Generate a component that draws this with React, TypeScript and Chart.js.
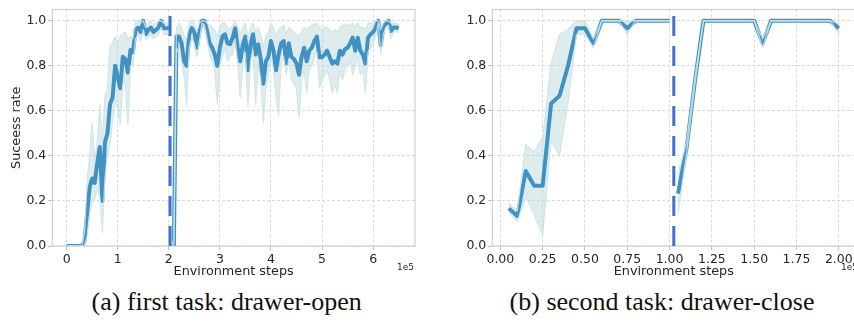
import React, { useEffect, useRef } from "react";
import { Chart, registerables } from "chart.js";

Chart.register(...registerables);

// ---------- Data (x in units of 1e5 environment steps) ----------
// (a) first task: drawer-open — phase 1 (first task)
const leftStepsA = [
  0, 0.05, 0.1, 0.15, 0.2, 0.25, 0.3, 0.35, 0.4, 0.45, 0.5, 0.55, 0.6, 0.65, 0.7, 0.75, 0.8, 0.85, 0.9, 0.95,
  1.0, 1.05, 1.1, 1.15, 1.2, 1.25, 1.3, 1.35, 1.4, 1.45, 1.5, 1.55, 1.6, 1.65, 1.7, 1.75, 1.8, 1.85, 1.9, 1.95, 2.0,
];
const leftMeanA = [
  0, 0, 0, 0, 0, 0, 0, 0.02, 0.14, 0.26, 0.3, 0.28, 0.37, 0.44, 0.2, 0.46, 0.5, 0.63, 0.66, 0.8,
  0.75, 0.7, 0.84, 0.83, 0.77, 0.87, 0.86, 0.96, 0.97, 0.95, 1.0, 0.94, 0.96, 0.97, 0.95, 0.96, 0.97, 1.0, 0.967, 0.967, 0.967,
];
const leftUpperA = [
  0, 0, 0, 0, 0, 0, 0, 0.06, 0.28, 0.4, 0.55, 0.38, 0.46, 0.63, 0.46, 0.66, 0.7, 0.89, 0.9, 0.93,
  0.9, 0.93, 0.94, 0.95, 0.92, 0.93, 0.92, 1.0, 1.0, 0.99, 1.0, 0.97, 0.99, 1.0, 0.98, 0.99, 1.0, 1.0, 0.99, 0.99, 0.99,
];
const leftLowerA = [
  0, 0, 0, 0, 0, 0, 0, 0, 0.04, 0.14, 0.2, 0.21, 0.25, 0.22, 0.06, 0.3, 0.4, 0.45, 0.55, 0.65,
  0.6, 0.54, 0.72, 0.72, 0.54, 0.8, 0.8, 0.92, 0.94, 0.91, 0.96, 0.92, 0.93, 0.94, 0.92, 0.93, 0.94, 0.97, 0.94, 0.94, 0.94,
];

// (a) phase 2 (after task switch)
const leftStepsB = [
  2.05, 2.1, 2.15, 2.2, 2.25, 2.3, 2.35, 2.4, 2.45, 2.5, 2.55, 2.6, 2.65, 2.7, 2.75, 2.8, 2.85, 2.9, 2.95, 3.0,
  3.05, 3.1, 3.15, 3.2, 3.25, 3.3, 3.35, 3.4, 3.45, 3.5, 3.55, 3.6, 3.65, 3.7, 3.75, 3.8, 3.85, 3.9, 3.95, 4.0,
  4.05, 4.1, 4.15, 4.2, 4.25, 4.3, 4.35, 4.4, 4.45, 4.5, 4.55, 4.6, 4.65, 4.7, 4.75, 4.8, 4.85, 4.9, 4.95, 5.0,
  5.05, 5.1, 5.15, 5.2, 5.25, 5.3, 5.35, 5.4, 5.45, 5.5, 5.55, 5.6, 5.65, 5.7, 5.75, 5.8, 5.85, 5.9, 5.95, 6.0,
  6.05, 6.1, 6.15, 6.2, 6.25, 6.3, 6.35, 6.4, 6.45, 6.5,
];
const leftMeanB = [
  0, 0, 0.93, 0.93, 0.9, 0.82, 0.8, 0.94, 0.967, 0.95, 0.88, 0.955, 1.0, 1.0, 0.955, 0.9, 0.88, 0.85, 0.8, 0.88,
  0.93, 0.94, 0.9, 0.896, 0.925, 0.967, 0.88, 0.82, 0.896, 0.93, 0.78, 0.896, 0.94, 0.85, 0.896, 0.83, 0.72, 0.82, 0.84, 0.91,
  0.867, 0.78, 0.85, 0.9, 0.91, 0.81, 0.9, 0.84, 0.83, 0.81, 0.76, 0.84, 0.88, 0.82, 0.867, 0.88, 0.91, 0.93, 0.838, 0.838,
  0.85, 0.867, 0.838, 0.81, 0.82, 0.81, 0.867, 0.85, 0.874, 0.88, 0.9, 0.925, 0.867, 0.925, 0.867, 0.85, 0.81, 0.925, 0.94, 0.95,
  0.967, 1.0, 0.89, 0.97, 0.99, 1.0, 0.955, 0.97, 0.97, 0.967,
];
const leftUpperB = [
  0, 0.03, 0.97, 0.99, 0.97, 0.93, 0.92, 0.99, 1.0, 0.99, 0.95, 0.99, 1.0, 1.0, 0.99, 0.98, 0.97, 0.96, 0.93, 0.97,
  0.99, 0.99, 0.97, 0.96, 0.98, 1.0, 0.97, 0.94, 0.97, 0.99, 0.92, 0.97, 0.99, 0.95, 0.97, 0.94, 0.88, 0.93, 0.95, 0.99,
  0.97, 0.93, 0.96, 0.97, 0.98, 0.94, 0.97, 0.96, 0.95, 0.94, 0.93, 0.95, 0.97, 0.96, 0.97, 0.98, 0.98, 0.99, 0.97, 0.96,
  0.97, 0.97, 0.96, 0.95, 0.96, 0.95, 0.97, 0.98, 0.98, 0.98, 0.98, 0.99, 0.97, 0.99, 0.97, 0.97, 0.96, 0.99, 0.99, 0.99,
  1.0, 1.0, 0.96, 0.99, 1.0, 1.0, 0.99, 0.99, 0.99, 0.98,
];
const leftLowerB = [
  0, 0, 0.88, 0.85, 0.82, 0.76, 0.63, 0.88, 0.92, 0.9, 0.84, 0.91, 0.99, 0.98, 0.92, 0.85, 0.82, 0.78, 0.63, 0.8,
  0.84, 0.88, 0.82, 0.84, 0.85, 0.92, 0.8, 0.66, 0.82, 0.86, 0.62, 0.82, 0.87, 0.63, 0.8, 0.74, 0.55, 0.7, 0.76, 0.84,
  0.78, 0.66, 0.58, 0.82, 0.84, 0.76, 0.83, 0.74, 0.72, 0.7, 0.57, 0.74, 0.78, 0.68, 0.78, 0.8, 0.84, 0.86, 0.7, 0.74,
  0.76, 0.78, 0.74, 0.68, 0.72, 0.68, 0.78, 0.74, 0.78, 0.8, 0.82, 0.76, 0.8, 0.84, 0.76, 0.78, 0.68, 0.86, 0.88, 0.9,
  0.93, 0.99, 0.85, 0.94, 0.97, 0.98, 0.92, 0.95, 0.95, 0.95,
];

// (b) second task: drawer-close — phase 1
const rightStepsA = [0.05, 0.1, 0.15, 0.2, 0.25, 0.3, 0.35, 0.4, 0.45, 0.5, 0.55, 0.6, 0.65, 0.7, 0.75, 0.8, 0.85, 0.9, 0.95, 1.0];
const rightMeanA = [0.167, 0.133, 0.333, 0.267, 0.267, 0.633, 0.667, 0.8, 0.967, 0.967, 0.9, 1, 1, 1, 0.967, 1, 1, 1, 1, 1];
const rightUpperA = [0.19, 0.155, 0.45, 0.42, 0.48, 0.81, 0.94, 0.96, 1.0, 1.0, 0.92, 1, 1, 1, 1.0, 1, 1, 1, 1, 1];
const rightLowerA = [0.15, 0.11, 0.22, 0.14, 0.05, 0.47, 0.4, 0.64, 0.94, 0.94, 0.88, 1, 1, 1, 0.94, 1, 1, 1, 1, 1];

// (b) phase 2
const rightStepsB = [1.05, 1.1, 1.15, 1.2, 1.25, 1.3, 1.35, 1.4, 1.45, 1.5, 1.55, 1.6, 1.65, 1.7, 1.75, 1.8, 1.85, 1.9, 1.95, 2.0];
const rightMeanB = [0.233, 0.433, 0.733, 1, 1, 1, 1, 1, 1, 1, 0.9, 1, 1, 1, 1, 1, 1, 1, 1, 0.967];
const rightUpperB = [0.32, 0.46, 0.75, 1, 1, 1, 1, 1, 1, 1, 0.92, 1, 1, 1, 1, 1, 1, 1, 1, 0.99];
const rightLowerB = [0.14, 0.41, 0.72, 1, 1, 1, 1, 1, 1, 1, 0.88, 1, 1, 1, 1, 1, 1, 1, 1, 0.94];

// task-switch markers
const leftSwitch = 2.025;
const rightSwitch = 1.025;

// ticks
const leftXTicks = [0, 1, 2, 3, 4, 5, 6];
const rightXTicks = [0, 0.25, 0.5, 0.75, 1.0, 1.25, 1.5, 1.75, 2.0];
const yTicks = [0, 0.2, 0.4, 0.6, 0.8, 1.0];

// ---------- Styles ----------
const LINE = "#4192c4";
const BAND_FILL = "rgba(170, 206, 208, 0.38)";
const BAND_EDGE = "rgba(205, 228, 232, 0.85)";
const DASH = "#3f6fd4";
const GRID = "#d6d6d6";
const FRAME = "#d0d0d0";
const TEXT = "#262626";
const SANS = "'DejaVu Sans', sans-serif";

const pts = (xs: number[], ys: number[]) => xs.map((x, i) => ({ x, y: ys[i] }));

function series(xs: number[], mean: number[], upper: number[], lower: number[]) {
  const common = { pointRadius: 0, tension: 0, borderJoinStyle: "round", borderCapStyle: "butt" };
  return [
    { ...common, data: pts(xs, upper), borderWidth: 0, borderColor: "transparent", backgroundColor: BAND_FILL, fill: "+1", order: 3 },
    { ...common, data: pts(xs, lower), borderWidth: 0, borderColor: "transparent", fill: false, order: 3 },
    { ...common, data: pts(xs, mean), borderWidth: 4, borderColor: LINE, fill: false, order: 2 },
    { ...common, data: pts(xs, upper), borderWidth: 1.3, borderColor: BAND_EDGE, fill: false, order: 1 },
    { ...common, data: pts(xs, lower), borderWidth: 1.3, borderColor: BAND_EDGE, fill: false, order: 1 },
  ];
}

function switchLine(x: number) {
  return {
    data: [{ x, y: 0 }, { x, y: 1.05 }],
    borderColor: DASH,
    borderWidth: 3,
    borderDash: [20, 10],
    borderCapStyle: "butt",
    pointRadius: 0,
    fill: false,
    order: 0,
  };
}

const framePlugin = {
  id: "frame",
  beforeDatasetsDraw(chart: any) {
    const { ctx, chartArea: a } = chart;
    ctx.save();
    ctx.strokeStyle = FRAME;
    ctx.lineWidth = 1.2;
    ctx.strokeRect(a.left, a.top, a.right - a.left, a.bottom - a.top);
    ctx.restore();
  },
};

function makeOptions(p: {
  xMin: number; xMax: number; xTicks: number[]; xDigits: number;
  yWidth: number; padRight: number; yTitle?: string;
}) {
  const tickFont = { family: SANS, size: 12.5 };
  const titleFont = { family: SANS, size: 12.8 };
  const grid = { color: GRID, lineWidth: 0.9, tickLength: 4, tickColor: "#bdbdbd", tickWidth: 1, tickBorderDash: [] };
  const border = { display: false, dash: [3, 2] };
  return {
    animation: false,
    responsive: false,
    maintainAspectRatio: false,
    devicePixelRatio: 1,
    events: [],
    layout: { padding: { left: 0, right: p.padRight, top: 4.3, bottom: 0 } },
    plugins: { legend: { display: false }, tooltip: { enabled: false } },
    scales: {
      x: {
        type: "linear",
        min: p.xMin,
        max: p.xMax,
        afterBuildTicks: (s: any) => { s.ticks = p.xTicks.map((v) => ({ value: v })); },
        afterFit: (s: any) => { s.height = 34; },
        ticks: {
          font: tickFont, color: TEXT, padding: 2.5, maxRotation: 0, autoSkip: false,
          callback: (v: any) => Number(v).toFixed(p.xDigits),
        },
        grid, border,
        title: { display: true, text: "Environment steps", font: titleFont, color: TEXT, padding: { top: 0, bottom: 0.8 } },
      },
      y: {
        type: "linear",
        min: 0,
        max: 1.05,
        afterBuildTicks: (s: any) => { s.ticks = yTicks.map((v) => ({ value: v })); },
        afterFit: (s: any) => { s.width = p.yWidth; },
        ticks: { font: tickFont, color: TEXT, padding: 2, callback: (v: any) => Number(v).toFixed(1) },
        grid, border,
        title: p.yTitle
          ? { display: true, text: p.yTitle, font: titleFont, color: TEXT, padding: { top: 8.8, bottom: 0 } }
          : { display: false },
      },
    },
  };
}

function Panel(props: { left: number; width: number; datasets: any[]; options: any }) {
  const ref = useRef<HTMLCanvasElement | null>(null);
  useEffect(() => {
    if (!ref.current) return;
    const chart = new Chart(ref.current, {
      type: "line",
      data: { datasets: props.datasets },
      options: props.options,
      plugins: [framePlugin],
    } as any);
    return () => chart.destroy();
  }, []);
  return (
    <canvas
      ref={ref}
      width={props.width}
      height={280}
      style={{ position: "absolute", left: props.left, top: 0, width: props.width, height: 280 }}
    />
  );
}

const captionStyle = (center: number): React.CSSProperties => ({
  position: "absolute",
  left: center - 200,
  width: 400,
  top: 287,
  textAlign: "center",
  fontFamily: "'Liberation Serif', 'Times New Roman', serif",
  fontSize: 26,
  lineHeight: "30px",
  color: "#111",
  whiteSpace: "nowrap",
});

const offsetStyle = (right: number): React.CSSProperties => ({
  position: "absolute",
  left: right - 60,
  width: 60,
  top: 262,
  textAlign: "right",
  fontFamily: SANS,
  fontSize: 9,
  lineHeight: "11px",
  color: TEXT,
});

export default function App() {
  const leftDatasets = [
    switchLine(leftSwitch),
    ...series(leftStepsA, leftMeanA, leftUpperA, leftLowerA),
    ...series(leftStepsB, leftMeanB, leftUpperB, leftLowerB),
  ];
  const rightDatasets = [
    switchLine(rightSwitch),
    ...series(rightStepsA, rightMeanA, rightUpperA, rightLowerA),
    ...series(rightStepsB, rightMeanB, rightUpperB, rightLowerB),
  ];
  const leftOptions = makeOptions({
    xMin: -0.28, xMax: 6.82, xTicks: leftXTicks, xDigits: 0, yWidth: 52.3, padRight: 12, yTitle: "Suceess rate",
  });
  const rightOptions = makeOptions({
    xMin: -0.0475, xMax: 2.0975, xTicks: rightXTicks, xDigits: 2, yWidth: 65.3, padRight: 1.7,
  });
  return (
    <div style={{ position: "absolute", left: 0, top: 0, width: 854, height: 322, overflow: "hidden", background: "#fff" }}>
      <Panel left={0} width={427} datasets={leftDatasets} options={leftOptions} />
      <Panel left={427} width={430} datasets={rightDatasets} options={rightOptions} />
      <div style={offsetStyle(414)}>1e5</div>
      <div style={offsetStyle(858)}>1e5</div>
      <div style={captionStyle(226.7)}>(a) first task: drawer-open</div>
      <div style={captionStyle(662)}>(b) second task: drawer-close</div>
    </div>
  );
}
